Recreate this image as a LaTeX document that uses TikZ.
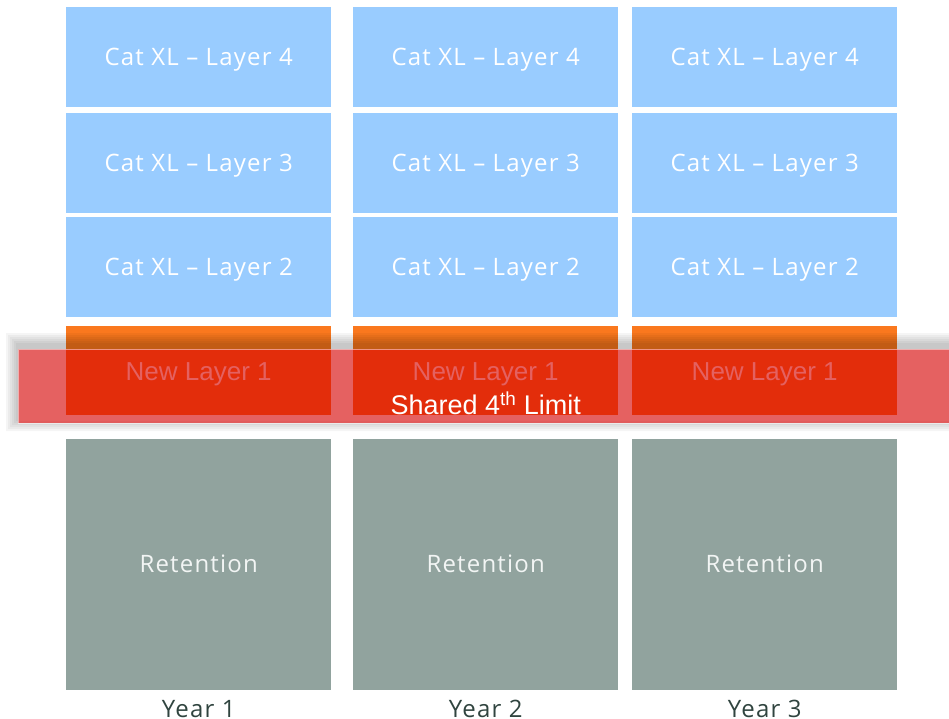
\documentclass[tikz,border=0pt]{standalone}
\usepackage{fontspec}
\setmainfont{Open Sans}[LetterSpace=5]
\newfontfamily\helv{Liberation Sans}
\usetikzlibrary{positioning,calc}
\definecolor{catblue}{RGB}{153,204,255}
\definecolor{layerorange}{RGB}{250,120,30}
\definecolor{retgrey}{RGB}{145,163,158}
\definecolor{bandred}{RGB}{213,0,0}
\definecolor{yeargrey}{RGB}{48,68,63}

\begin{document}
\begin{tikzpicture}[x=1pt,y=-1pt,
    every node/.style={inner sep=0pt,font=\fontsize{24}{28}\selectfont},
    box/.style={minimum width=265pt,text=white,text height=17pt,text depth=0pt},
    catbox/.style={box,fill=catblue,minimum height=100pt},
    newbox/.style={box,fill=layerorange,minimum height=89pt,text height=19pt,
      font=\helv\fontsize{26}{30}\selectfont},
    retbox/.style={box,fill=retgrey,minimum height=251pt,text={rgb,255:red,242;green,245;blue,244}},
    yearlabel/.style={text=yeargrey,text height=17pt,text depth=0pt},
    band/.style={fill=bandred,fill opacity=0.62,draw=white,draw opacity=0.5,line width=0.8pt,
      minimum width=931pt,minimum height=74pt,anchor=north west}]
  \useasboundingbox (0,0) rectangle (949,719);
  % one column per year
  \foreach \n/\x in {1/66,2/353,3/632} {
    \node[catbox,anchor=north west] (l4-\n) at (\x,7) {Cat XL – Layer 4};
    \node[catbox,below=5pt of l4-\n] (l3-\n) {Cat XL – Layer 3};
    \node[catbox,below=4pt of l3-\n] (l2-\n) {Cat XL – Layer 2};
    \node[newbox,below=9pt of l2-\n] (l1-\n) {New Layer 1};
    \node[retbox,below=23pt of l1-\n] (ret-\n) {Retention};
    \node[yearlabel,below=10pt of ret-\n] (year-\n) {Year \n};
  }
  % shared limit band with its shadow
  \coordinate (bandnw) at (18,349);
  \coordinate (bandse) at (949,423);
  \foreach \k in {2,4,...,12} {
    \fill[black,opacity=0.04,even odd rule]
      ($(bandnw)+(-\k,-\k-4)$) rectangle ($(bandse)+(\k,\k-4)$)
      (bandnw) rectangle (bandse);
  }
  \node[band] (band) at (bandnw) {};
  \node[text=white,font=\helv\fontsize{27}{30}\selectfont,above=1pt of l1-2.south] (shared)
    {Shared 4\textsuperscript{th} Limit};
\end{tikzpicture}
\end{document}
